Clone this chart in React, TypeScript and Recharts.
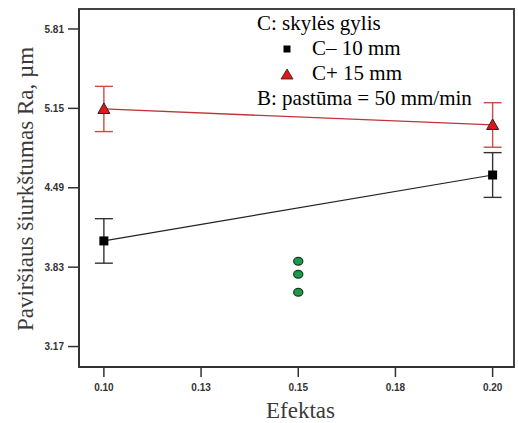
import { ComposedChart, Line, Scatter, XAxis, YAxis, ErrorBar, ReferenceArea, Label } from "recharts"

// feed rate (Efektas) on x, roughness Ra on y
const feedRates = [0.1, 0.2]
const lowDepth = [4.048, 4.596] // C- 10 mm
const lowDepthErr = [0.185, 0.186]
const highDepth = [5.145, 5.012] // C+ 15 mm
const highDepthErr = [0.188, 0.185]
const centerX = [0.15, 0.15, 0.15]
const centerPoints = [3.879, 3.771, 3.621]

const xTicks = [0.1, 0.125, 0.15, 0.175, 0.2]
const xTickLabels = ["0.10", "0.13", "0.15", "0.18", "0.20"]
const yTicks = [3.17, 3.83, 4.49, 5.15, 5.81]
const xDomain = [0.0936, 0.2055]
const yDomain = [3.0, 5.976]

const legendTitle = "C: skylės gylis"
const seriesNames = ["C– 10 mm", "C+ 15 mm"]
const legendNote = "B: pastūma = 50 mm/min"
const xTitle = "Efektas"
const yTitle = "Paviršiaus šiurkštumas Ra, µm"

const lowData = feedRates.map((x, i) => ({ x, y: lowDepth[i], err: lowDepthErr[i] }))
const highData = feedRates.map((x, i) => ({ x, y: highDepth[i], err: highDepthErr[i] }))
const centerData = centerX.map((x, i) => ({ x, y: centerPoints[i] }))

const serif = "'Liberation Serif', 'Times New Roman', serif"
const sans = "'Liberation Sans', Arial, sans-serif"
const tickStyle = { fontSize: 10, fontWeight: "bold", fill: "#333", fontFamily: sans }

const SquareDot = (p: any) => {
  if (p.cx == null || p.cy == null) return null
  return <rect key={p.key} x={p.cx - 4.5} y={p.cy - 4.5} width={9} height={9} fill="#000" />
}

const TriangleDot = (p: any) => {
  if (p.cx == null || p.cy == null) return null
  const { cx, cy } = p
  return (
    <polygon
      key={p.key}
      points={`${cx},${cy - 6} ${cx + 6},${cy + 4.5} ${cx - 6},${cy + 4.5}`}
      fill="#e01818"
      stroke="#222"
      strokeWidth={1}
    />
  )
}

const GreenDot = (p: any) => (
  <ellipse cx={p.cx} cy={p.cy} rx={4.6} ry={3.9} fill="#1c9a48" stroke="#173a22" strokeWidth={1.2} />
)

const YTitle = (p: any) => {
  const vb = p.viewBox || { x: 0, y: 9, width: 79, height: 358 }
  const cx = vb.x + 25
  const cy = vb.y + vb.height / 2 + 1
  return (
    <text
      x={cx}
      y={cy}
      transform={`rotate(-90 ${cx} ${cy})`}
      textAnchor="middle"
      dominantBaseline="central"
      fontFamily={serif}
      fontSize={23}
      fill="#3a3a3a"
    >
      {yTitle}
    </text>
  )
}

const XTitle = (p: any) => {
  const vb = p.viewBox || { x: 79, y: 367, width: 435, height: 56 }
  return (
    <text x={vb.x + vb.width / 2 + 4} y={vb.y + 51} textAnchor="middle" fontFamily={serif} fontSize={23} fill="#3a3a3a">
      {xTitle}
    </text>
  )
}

function LegendBox() {
  const row = { height: 25, lineHeight: "25px", whiteSpace: "nowrap" as const }
  return (
    <div style={{ position: "absolute", left: 257, top: 11, fontFamily: serif, fontSize: 21, color: "#000" }}>
      <div style={row}>{legendTitle}</div>
      <div style={{ ...row, position: "relative", paddingLeft: 55 }}>
        <svg width={10} height={10} style={{ position: "absolute", left: 25, top: 8 }}>
          <rect x={1.5} y={1.5} width={7} height={7} fill="#000" />
        </svg>
        {seriesNames[0]}
      </div>
      <div style={{ ...row, position: "relative", paddingLeft: 55 }}>
        <svg width={14} height={12} style={{ position: "absolute", left: 23, top: 7 }}>
          <polygon points="7,1 13,11 1,11" fill="#e01818" stroke="#222" strokeWidth={0.8} />
        </svg>
        {seriesNames[1]}
      </div>
      <div style={row}>{legendNote}</div>
    </div>
  )
}

export default function App() {
  return (
    <div style={{ position: "absolute", left: 0, top: 0, width: 518, height: 423, background: "#fff" }}>
      <ComposedChart width={518} height={423} margin={{ top: 9, right: 4, left: 0, bottom: 0 }}>
        <XAxis
          dataKey="x"
          type="number"
          domain={xDomain}
          ticks={xTicks}
          tickFormatter={(_v: number, i: number) => xTickLabels[i]}
          allowDataOverflow
          height={56}
          tickSize={10}
          tickMargin={7}
          tick={tickStyle}
          tickLine={{ stroke: "#333", strokeWidth: 1.5 }}
          axisLine={{ stroke: "#333", strokeWidth: 2 }}
        >
          <Label content={<XTitle />} />
        </XAxis>
        <YAxis
          type="number"
          domain={yDomain}
          ticks={yTicks}
          tickFormatter={(v: number) => v.toFixed(2)}
          allowDataOverflow
          width={79}
          tickSize={11}
          tickMargin={4}
          tick={tickStyle}
          tickLine={{ stroke: "#333", strokeWidth: 1.5 }}
          axisLine={{ stroke: "#333", strokeWidth: 2 }}
        >
          <Label content={<YTitle />} />
        </YAxis>
        <ReferenceArea
          x1={xDomain[0]}
          x2={xDomain[1]}
          y1={yDomain[0]}
          y2={yDomain[1]}
          fill="none"
          fillOpacity={0}
          stroke="#444"
          strokeWidth={2}
        />
        <Line
          data={highData}
          dataKey="y"
          stroke="#c03434"
          strokeWidth={1.3}
          dot={TriangleDot}
          activeDot={false}
          isAnimationActive={false}
        >
          <ErrorBar dataKey="err" direction="y" width={9} stroke="#d04848" strokeWidth={1.4} isAnimationActive={false} />
        </Line>
        <Line
          data={lowData}
          dataKey="y"
          stroke="#222"
          strokeWidth={1.2}
          dot={SquareDot}
          activeDot={false}
          isAnimationActive={false}
        >
          <ErrorBar dataKey="err" direction="y" width={9} stroke="#333" strokeWidth={1.4} isAnimationActive={false} />
        </Line>
        <Scatter data={centerData} dataKey="y" shape={GreenDot} isAnimationActive={false} />
      </ComposedChart>
      <LegendBox />
    </div>
  )
}
